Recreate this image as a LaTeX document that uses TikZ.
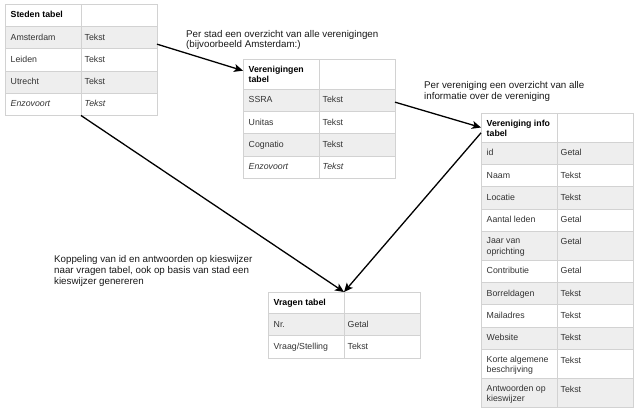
\documentclass[tikz,border=0pt]{standalone}
\usepackage{fontspec}
\setmainfont{Liberation Sans}
\usetikzlibrary{arrows.meta}
\definecolor{rand}{HTML}{D2D2D2}
\definecolor{grijs}{HTML}{EEEEEE}
\definecolor{inkt}{HTML}{333333}
\definecolor{zwart}{HTML}{1A1A1A}

\begin{document}
\begin{tikzpicture}[x=1bp, y=-1bp,
    cel/.style = {draw=rand, line width=0.8bp, fill=white, minimum width=76bp, minimum height=#1, anchor=north west, inner sep=0pt, outer sep=0pt},
    cel/.default = 22.3bp,
    txt/.style = {anchor=north west, inner sep=0pt, align=left, text=inkt, font=\fontsize{8.8}{10.5}\selectfont, execute at begin node={\rule{0pt}{7bp}}},
    kop/.style = {txt, text=black, font=\fontsize{8.8}{10.5}\selectfont\bfseries},
    uitleg/.style = {anchor=north west, inner sep=0pt, align=left, text=zwart, font=\fontsize{9.8}{10.8}\selectfont, execute at begin node={\rule{0pt}{7.5bp}}},
    pijl/.style = {-{Stealth[length=9bp, width=8bp, inset=2.2bp]}, line width=1.3bp}]

    \path[fill=white] (0,0) rectangle (640,414);
    \useasboundingbox (0,0) rectangle (640,414);

    % Steden tabel
    \node[cel] (st-0-a) at (5,4) {};
    \node[cel] (st-0-b) at (st-0-a.north east) {};
    \node[kop] (st-0-n) at ([shift={(5.5,6.5)}]st-0-a.north west) {Steden tabel};
    \foreach \naam/\waarde/\kl [count=\i] in {Amsterdam/Tekst/grijs, Leiden/Tekst/white, Utrecht/Tekst/grijs, \textit{Enzovoort}/\textit{Tekst}/white} {
        \pgfmathtruncatemacro\j{\i-1}
        \node[cel, fill=\kl] (st-\i-a) at (st-\j-a.south west) {};
        \node[cel, fill=\kl] (st-\i-b) at (st-\i-a.north east) {};
        \node[txt] (st-\i-n) at ([shift={(5.5,6.5)}]st-\i-a.north west) {\naam};
        \node[txt] (st-\i-w) at ([shift={(3.5,6.5)}]st-\i-b.north west) {\waarde};
    }

    % Verenigingen tabel
    \node[cel=30bp] (vg-0-a) at (243,59) {};
    \node[cel=30bp] (vg-0-b) at (vg-0-a.north east) {};
    \node[kop] (vg-0-n) at ([shift={(5.5,6.5)}]vg-0-a.north west) {Verenigingen\\tabel};
    \foreach \naam/\waarde/\kl [count=\i] in {SSRA/Tekst/grijs, Unitas/Tekst/white, Cognatio/Tekst/grijs, \textit{Enzovoort}/\textit{Tekst}/white} {
        \pgfmathtruncatemacro\j{\i-1}
        \node[cel, fill=\kl] (vg-\i-a) at (vg-\j-a.south west) {};
        \node[cel, fill=\kl] (vg-\i-b) at (vg-\i-a.north east) {};
        \node[txt] (vg-\i-n) at ([shift={(5.5,6.5)}]vg-\i-a.north west) {\naam};
        \node[txt] (vg-\i-w) at ([shift={(3.5,6.5)}]vg-\i-b.north west) {\waarde};
    }

    % Vereniging info tabel
    \node[cel=29bp] (vi-0-a) at (481,113) {};
    \node[cel=29bp] (vi-0-b) at (vi-0-a.north east) {};
    \node[kop] (vi-0-n) at ([shift={(5.5,6.5)}]vi-0-a.north west) {Vereniging info\\tabel};
    \foreach \naam/\waarde/\h/\kl [count=\i] in {id/Getal/22.3bp/grijs, Naam/Tekst/22.3bp/white, Locatie/Tekst/22.3bp/grijs, Aantal leden/Getal/22.3bp/white, Jaar van\\oprichting/Getal/29bp/grijs, Contributie/Getal/22.3bp/white, Borreldagen/Tekst/22.3bp/grijs, Mailadres/Tekst/22.3bp/white, Website/Tekst/22.3bp/grijs, Korte algemene\\beschrijving/Tekst/29bp/white, Antwoorden op\\kieswijzer/Tekst/29bp/grijs} {
        \pgfmathtruncatemacro\j{\i-1}
        \node[cel=\h, fill=\kl] (vi-\i-a) at (vi-\j-a.south west) {};
        \node[cel=\h, fill=\kl] (vi-\i-b) at (vi-\i-a.north east) {};
        \node[txt] (vi-\i-n) at ([shift={(5.5,6.5)}]vi-\i-a.north west) {\naam};
        \node[txt] (vi-\i-w) at ([shift={(3.5,6.5)}]vi-\i-b.north west) {\waarde};
    }

    % Vragen tabel
    \node[cel=21.5bp] (vr-0-a) at (268,292) {};
    \node[cel=21.5bp] (vr-0-b) at (vr-0-a.north east) {};
    \node[kop] (vr-0-n) at ([shift={(5.5,6.5)}]vr-0-a.north west) {Vragen tabel};
    \foreach \naam/\waarde/\kl [count=\i] in {Nr./Getal/grijs, {Vraag/Stelling}/Tekst/white} {
        \pgfmathtruncatemacro\j{\i-1}
        \node[cel, fill=\kl] (vr-\i-a) at (vr-\j-a.south west) {};
        \node[cel, fill=\kl] (vr-\i-b) at (vr-\i-a.north east) {};
        \node[txt] (vr-\i-n) at ([shift={(5.5,6.5)}]vr-\i-a.north west) {\naam};
        \node[txt] (vr-\i-w) at ([shift={(3.5,6.5)}]vr-\i-b.north west) {\waarde};
    }

    \node[uitleg] (stad) at (186,29.8) {Per stad een overzicht van alle verenigingen\\(bijvoorbeeld Amsterdam:)};
    \node[uitleg] (info) at (424,81.5) {Per vereniging een overzicht van alle\\informatie over de vereniging};
    \node[uitleg] (koppeling) at (54,255.5) {Koppeling van id en antwoorden op kieswijzer\\naar vragen tabel, ook op basis van stad een\\kieswijzer genereren};

    \draw[pijl] (st-1-b.-10) -- (vg-0-a.175);
    \draw[pijl] (vg-1-b.-3) -- (vi-0-a.west);
    \draw[pijl] (st-4-a.south east) -- (vr-0-a.north east);
    \draw[pijl] (vi-0-a.188) -- (vr-0-a.north east);
\end{tikzpicture}
\end{document}
